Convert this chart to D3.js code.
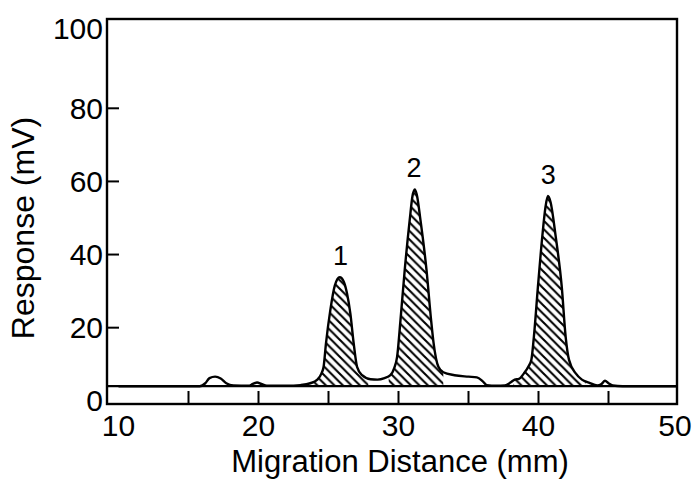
<!DOCTYPE html>
<html>
<head>
<meta charset="utf-8">
<script src="https://cdn.jsdelivr.net/npm/d3@7/dist/d3.min.js"></script>
<style>
  html, body { margin: 0; padding: 0; background: #fff; }
  svg { display: block; }
  text { font-family: "Liberation Sans", Arial, Helvetica, sans-serif; fill: #000; }
</style>
</head>
<body>
<svg id="chart" width="693" height="479"></svg>
<script>
// ---- data ----
const traceX = [10.0, 15.8, 16.2, 16.5, 16.9, 17.3, 17.7, 18.2, 19.3, 19.6, 19.9, 20.2, 20.6, 22.0,
  23.0, 23.7, 24.18, 24.5, 24.65, 24.82, 25.13, 25.45, 25.8, 26.1, 26.32, 26.56, 26.8, 27.04, 27.4,
  28.0, 28.5, 29.0, 29.42, 29.7, 29.9, 30.14, 30.45, 30.8, 31.0, 31.16, 31.3, 31.57, 32.0, 32.33,
  32.5, 32.85, 33.2, 34.0, 35.0, 35.6, 36.0, 36.3, 37.0, 37.6, 38.0, 38.3, 38.6, 38.96, 39.3, 39.49,
  39.67, 39.96, 40.27, 40.5, 40.67, 40.85, 41.23, 41.66, 41.94, 42.18, 42.66, 43.1, 43.6, 44.2,
  44.5, 44.75, 45.0, 45.3, 46.0, 50.0];
const traceY = [4.0, 4.0, 4.8, 6.2, 6.6, 6.1, 4.8, 4.2, 4.1, 4.6, 5.0, 4.6, 4.1, 4.1,
  4.3, 4.8, 5.7, 7.5, 9.3, 15.7, 24.8, 31.5, 33.8, 32.5, 29.4, 23.9, 15.7, 9.3, 7.0,
  5.9, 5.8, 6.2, 7.0, 9.0, 12.0, 22.0, 36.0, 49.4, 56.0, 57.8, 56.5, 49.4, 35.8, 22.0,
  16.0, 9.3, 7.8, 7.0, 6.6, 6.4, 5.4, 4.3, 4.1, 4.2, 5.0, 5.8, 6.0, 7.5, 9.5, 11.2,
  17.5, 31.2, 44.9, 53.0, 56.0, 54.5, 44.9, 31.2, 17.5, 11.2, 7.5, 5.8, 5.0, 4.2,
  4.6, 5.5, 4.8, 4.2, 4.0, 4.0];
const baselineValue = 4.0;

const peakNames = ["1", "2", "3"];
const peakX = [25.85, 31.1, 40.7];
const peakTop = [33.8, 57.8, 56.0];
const hatchStart = [23.9, 29.3, 38.2];
const hatchEnd = [27.85, 33.2, 43.4];

const xTicks = [15, 20, 25, 30, 35, 40, 45];
const xTickLabels = [10, 20, 30, 40, 50];
const yTicks = [20, 40, 60, 80];
const yTickLabels = [0, 20, 40, 60, 80, 100];

// ---- layout ----
const W = 693;
const svg = d3.select("#chart");
const frame = { left: 107, right: 677, top: 19, bottom: 404 };

const x = d3.scaleLinear().domain([10, 50]).range([118.5, 678.5]);
const y = d3.scaleLinear().domain([0, 80, 100]).range([400.8, 108.3, 28]);

const pts = traceX.map((d, i) => [d, traceY[i]]);

// hatch pattern
const defs = svg.append("defs");
const pat = defs.append("pattern")
  .attr("id", "hatch").attr("patternUnits", "userSpaceOnUse")
  .attr("width", 8.5).attr("height", 8.5);
pat.append("path")
  .attr("d", "M-2,-2 L10.5,10.5 M-2,6.5 L2,10.5 M6.5,-2 L10.5,2")
  .attr("stroke", "#000").attr("stroke-width", 2.1).attr("fill", "none");

defs.append("clipPath").attr("id", "frameClip")
  .append("rect").attr("x", frame.left).attr("y", frame.top)
  .attr("width", frame.right - frame.left).attr("height", frame.bottom - frame.top);

peakNames.forEach((n, i) => {
  defs.append("clipPath").attr("id", "hc" + i)
    .append("rect")
    .attr("x", x(hatchStart[i])).attr("y", frame.top)
    .attr("width", x(hatchEnd[i]) - x(hatchStart[i]))
    .attr("height", frame.bottom - frame.top);
});

const curve = d3.curveMonotoneX;
const area = d3.area().x(d => x(d[0])).y0(y(baselineValue)).y1(d => y(d[1])).curve(curve);
const line = d3.line().x(d => x(d[0])).y(d => y(d[1])).curve(curve);

const plot = svg.append("g").attr("clip-path", "url(#frameClip)");

peakNames.forEach((n, i) => {
  plot.append("path").datum(pts)
    .attr("clip-path", "url(#hc" + i + ")")
    .attr("d", area).attr("fill", "url(#hatch)");
});

// baseline
plot.append("line")
  .attr("x1", frame.left).attr("x2", frame.right)
  .attr("y1", y(baselineValue)).attr("y2", y(baselineValue))
  .attr("stroke", "#000").attr("stroke-width", 2.2);

// trace
plot.append("path").datum(pts)
  .attr("d", line).attr("fill", "none")
  .attr("stroke", "#000").attr("stroke-width", 2.4)
  .attr("stroke-linejoin", "round");

// frame
svg.append("rect")
  .attr("x", frame.left).attr("y", frame.top)
  .attr("width", frame.right - frame.left).attr("height", frame.bottom - frame.top)
  .attr("fill", "none").attr("stroke", "#000").attr("stroke-width", 2.4);

// x ticks (inward from bottom)
svg.append("g").selectAll("line").data(xTicks).join("line")
  .attr("x1", d => x(d)).attr("x2", d => x(d))
  .attr("y1", frame.bottom).attr("y2", frame.bottom - 13)
  .attr("stroke", "#000").attr("stroke-width", 2);
svg.append("g").selectAll("text").data(xTickLabels).join("text")
  .attr("x", d => Math.min(x(d), W - 18)).attr("y", 436)
  .attr("text-anchor", "middle").attr("font-size", 30)
  .text(d => d);

// y ticks (inward from left)
svg.append("g").selectAll("line").data(yTicks).join("line")
  .attr("x1", frame.left).attr("x2", frame.left + 12)
  .attr("y1", d => y(d)).attr("y2", d => y(d))
  .attr("stroke", "#000").attr("stroke-width", 2);
svg.append("g").selectAll("text").data(yTickLabels).join("text")
  .attr("x", 103).attr("y", d => y(d))
  .attr("dy", "0.35em")
  .attr("text-anchor", "end").attr("font-size", 30)
  .text(d => d);

// axis titles
svg.append("text")
  .attr("x", (223 + 577) / 2).attr("y", 472)
  .attr("text-anchor", "middle").attr("font-size", 31)
  .text("Migration Distance (mm)");
svg.append("text")
  .attr("transform", "translate(34,228) rotate(-90)")
  .attr("text-anchor", "middle").attr("font-size", 32)
  .text("Response (mV)");

// peak labels
svg.append("g").selectAll("text").data(peakNames).join("text")
  .attr("x", (d, i) => x(peakX[i])).attr("y", (d, i) => y(peakTop[i] + 6))
  .attr("dy", "0.36em")
  .attr("text-anchor", "middle").attr("font-size", 27)
  .text(d => d);
</script>
</body>
</html>
